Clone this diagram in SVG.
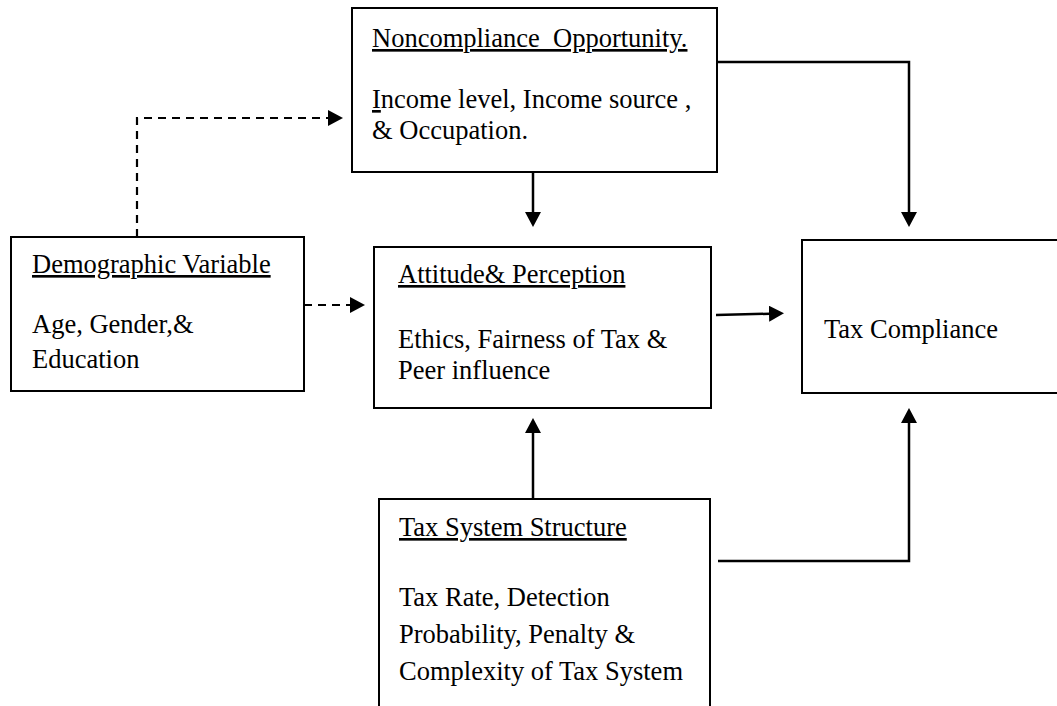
<svg xmlns="http://www.w3.org/2000/svg" width="1057" height="706" viewBox="0 0 1057 706">
  <style>
    .box { fill: #fff; stroke: #000; stroke-width: 2; }
    .lbl { font-family: "Liberation Serif", "Times New Roman", serif; font-size: 26.5px; fill: #000; white-space: pre; }
    .ttl { text-decoration: underline; }
    .solid { fill: none; stroke: #000; stroke-width: 2.5; }
    .dash { fill: none; stroke: #000; stroke-width: 2.2; stroke-dasharray: 8 6; }
  </style>
  <defs>
    <marker id="arrow" markerWidth="16" markerHeight="16" refX="9" refY="8" orient="auto" markerUnits="userSpaceOnUse">
      <path d="M0,0 L15,8 L0,16 z" fill="#000"/>
    </marker>
  </defs>
  <rect width="1057" height="706" fill="#fff"/>

  <g id="connectors">
    <!-- Demographic -> Noncompliance (dashed, elbow) -->
    <path class="dash" d="M137,237 V118 H337" marker-end="url(#arrow)"/>
    <!-- Demographic -> Attitude (dashed) -->
    <path class="dash" d="M304,305 H359" marker-end="url(#arrow)"/>
    <!-- Noncompliance -> Attitude -->
    <path class="solid" d="M533,172 V221" marker-end="url(#arrow)"/>
    <!-- Noncompliance -> Tax Compliance -->
    <path class="solid" d="M717,62 H909 V221" marker-end="url(#arrow)"/>
    <!-- Attitude -> Tax Compliance -->
    <path class="solid" d="M716,315 L778,313.5" marker-end="url(#arrow)"/>
    <!-- Tax System -> Attitude -->
    <path class="solid" d="M533,499 V424" marker-end="url(#arrow)"/>
    <!-- Tax System -> Tax Compliance -->
    <path class="solid" d="M718,561 H909 V414" marker-end="url(#arrow)"/>
  </g>

  <g id="noncompliance">
    <rect class="box" x="352" y="8" width="365" height="164"/>
    <text class="lbl ttl" x="372" y="47">Noncompliance  Opportunity.</text>
    <text class="lbl" x="372" y="108"><tspan text-decoration="underline">I</tspan>ncome level, Income source ,</text>
    <text class="lbl" x="372" y="139">&amp; Occupation.</text>
  </g>

  <g id="demographic">
    <rect class="box" x="11" y="237" width="293" height="154"/>
    <text class="lbl ttl" x="32" y="273">Demographic Variable</text>
    <text class="lbl" x="32" y="333">Age, Gender,&amp;</text>
    <text class="lbl" x="32" y="368">Education</text>
  </g>

  <g id="attitude">
    <rect class="box" x="374" y="247" width="337" height="161"/>
    <text class="lbl ttl" x="398" y="283">Attitude&amp; Perception</text>
    <text class="lbl" x="398" y="348">Ethics, Fairness of Tax &amp;</text>
    <text class="lbl" x="398" y="379">Peer influence</text>
  </g>

  <g id="tax-compliance">
    <rect class="box" x="802" y="240" width="270" height="153"/>
    <text class="lbl" x="824" y="338">Tax Compliance</text>
  </g>

  <g id="tax-system">
    <rect class="box" x="379" y="499" width="331" height="220"/>
    <text class="lbl ttl" x="399" y="536">Tax System Structure</text>
    <text class="lbl" x="399" y="606">Tax Rate, Detection</text>
    <text class="lbl" x="399" y="643">Probability, Penalty &amp;</text>
    <text class="lbl" x="399" y="680">Complexity of Tax System</text>
  </g>
</svg>
